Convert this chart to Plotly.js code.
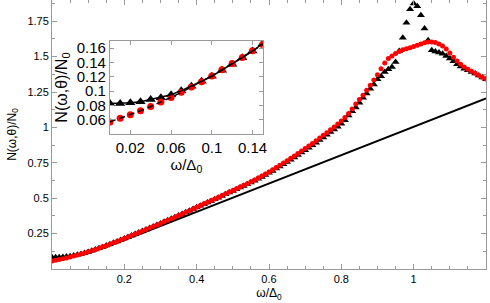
<!DOCTYPE html>
<html>
<head>
<meta charset="utf-8">
<script src="https://cdn.plot.ly/plotly-3.0.1.min.js"></script>
<style>html,body{margin:0;padding:0;background:#fff;}#chart{width:490px;height:303px;}</style>
</head>
<body>
<div id="chart"></div>
<script>
// ---- main panel data (omega/Delta0 from 0 to 1.2 in steps of 0.01) ----
const omegaStep = 0.01;
const nPoints = 121;
const blackTriangles = [
0.0827,0.0827,0.0837,0.0851,0.0883,0.0907,0.0949,0.1006,0.1066,0.1137,
0.1207,0.1292,0.1376,0.1466,0.1559,0.1663,0.175,0.185,0.195,0.2055,
0.216,0.2265,0.237,0.2475,0.258,0.2685,0.279,0.29,0.3005,0.311,
0.322,0.333,0.344,0.355,0.366,0.377,0.389,0.40,0.412,0.424,
0.436,0.447,0.458,0.469,0.481,0.493,0.504,0.516,0.528,0.54,
0.551,0.563,0.575,0.587,0.598,0.611,0.623,0.637,0.65,0.664,
0.679,0.693,0.709,0.724,0.74,0.756,0.772,0.788,0.805,0.822,
0.839,0.857,0.874,0.892,0.911,0.929,0.948,0.967,0.986,1.005,
1.026,1.05,1.085,1.115,1.14,1.175,1.21,1.239,1.274,1.304,
1.34,1.361,1.391,1.41,1.427,1.462,1.54,1.634,1.74,1.835,
1.875,1.855,1.792,1.698,1.615,1.545,1.537,1.53,1.521,1.504,
1.486,1.467,1.446,1.431,1.415,1.403,1.391,1.38,1.366,1.352,
1.34];
const redCircles = [
0.0569,0.0621,0.0668,0.0724,0.0785,0.0846,0.0911,0.0982,0.1058,0.1132,
0.1212,0.1297,0.1386,0.1470,0.1565,0.165,0.175,0.185,0.195,0.2055,
0.216,0.2265,0.237,0.2475,0.258,0.2685,0.279,0.29,0.3005,0.311,
0.322,0.333,0.344,0.355,0.366,0.377,0.389,0.40,0.412,0.424,
0.436,0.448,0.46,0.471,0.483,0.495,0.507,0.519,0.531,0.543,
0.555,0.567,0.579,0.591,0.603,0.616,0.629,0.643,0.657,0.671,
0.686,0.701,0.717,0.733,0.749,0.765,0.782,0.799,0.816,0.833,
0.851,0.869,0.887,0.906,0.925,0.944,0.963,0.983,1.003,1.024,
1.046,1.07,1.098,1.13,1.165,1.197,1.227,1.262,1.298,1.335,
1.372,1.415,1.455,1.486,1.505,1.522,1.537,1.548,1.556,1.563,
1.572,1.58,1.589,1.598,1.603,1.603,1.599,1.589,1.575,1.554,
1.525,1.495,1.469,1.446,1.427,1.41,1.396,1.382,1.368,1.354,
1.342];
const refLineX = [0, 0.05, 0.1, 0.15, 0.2, 0.25, 0.3, 0.4, 0.6, 0.8, 1.0, 1.2];
const refLineY = [0.07, 0.082, 0.112, 0.156, 0.204, 0.253, 0.303, 0.404, 0.605, 0.806, 1.006, 1.205];

// ---- inset data (omega/Delta0 from 0 to 0.15) ----
const insetX = [0,0.01,0.02,0.03,0.04,0.05,0.06,0.07,0.08,0.09,0.10,0.11,0.12,0.13,0.14,0.15];
const insetBlack = [0.0827,0.0827,0.0837,0.0851,0.0883,0.0907,0.0949,0.1006,0.1066,0.1137,0.1207,0.1292,0.1376,0.1466,0.1559,0.1663];
const insetRed = [0.0569,0.0621,0.0668,0.0724,0.0785,0.0846,0.0911,0.0982,0.1058,0.1132,0.1212,0.1297,0.1386,0.1470,0.1565,0.165];

const mainXTicks = [0.2, 0.4, 0.6, 0.8, 1];
const mainYTicks = [0.25, 0.5, 0.75, 1, 1.25, 1.5, 1.75];
const insetXTicks = [0.02, 0.06, 0.1, 0.14];
const insetYTicks = [0.06, 0.08, 0.1, 0.12, 0.14, 0.16];

const omega = [];
for (let i = 0; i < nPoints; i++) omega.push(+(i * omegaStep).toFixed(2));

const FONT = 'Liberation Sans, Arial, sans-serif';
const frame = '#9a9a9a';

const traces = [
  {x: refLineX, y: refLineY, mode: 'lines', line: {color: '#000', width: 2}, xaxis: 'x', yaxis: 'y', hoverinfo: 'skip'},
  {x: omega, y: blackTriangles, mode: 'markers', marker: {symbol: 'triangle-up', size: 7, color: '#000'}, xaxis: 'x', yaxis: 'y'},
  {x: omega, y: redCircles, mode: 'markers', marker: {symbol: 'circle', size: 5, color: '#ff0000'}, xaxis: 'x', yaxis: 'y'},
  {x: insetX, y: insetBlack, mode: 'markers', marker: {symbol: 'triangle-up', size: 9, color: '#000'}, xaxis: 'x2', yaxis: 'y2'},
  {x: insetX, y: insetRed, mode: 'markers', marker: {symbol: 'circle', size: 7, color: '#ff0000'}, xaxis: 'x2', yaxis: 'y2'},
  {x: insetX, y: insetBlack, mode: 'lines', line: {color: '#000', width: 1.5}, xaxis: 'x2', yaxis: 'y2'},
  {x: insetX, y: insetRed, mode: 'lines', line: {color: '#000', width: 1.5, dash: '6px,4px'}, xaxis: 'x2', yaxis: 'y2'}
];

const axisCommon = {
  showgrid: false, zeroline: false, showline: true, linecolor: frame, linewidth: 1,
  mirror: 'allticks', ticks: 'inside', tickcolor: frame, tickwidth: 1,
  fixedrange: true
};

const layout = {
  width: 490, height: 303,
  margin: {l: 52, r: 4, t: 0, b: 34},
  paper_bgcolor: '#fff', plot_bgcolor: '#fff',
  showlegend: false,
  font: {family: FONT, color: '#000', size: 11},
  xaxis: Object.assign({}, axisCommon, {
    domain: [0, 1], range: [0, 1.2], tickmode: 'array', tickvals: mainXTicks,
    ticktext: mainXTicks.map(String), ticklen: 5,
    minor: {tickmode: 'linear', tick0: 0, dtick: 0.05, ticks: 'inside', ticklen: 3, tickcolor: frame},
    tickfont: {size: 11},
    title: {text: 'ω/Δ<sub>0</sub>', font: {size: 12}, standoff: 4}
  }),
  yaxis: Object.assign({}, axisCommon, {
    domain: [0, 1], range: [0, 1.9], tickmode: 'array', tickvals: mainYTicks,
    ticktext: mainYTicks.map(String), ticklen: 5,
    minor: {tickmode: 'linear', tick0: 0, dtick: 0.125, ticks: 'inside', ticklen: 3, tickcolor: frame},
    tickfont: {size: 11},
    title: {text: 'N(ω,θ)/N<sub>0</sub>', font: {size: 12}, standoff: 8}
  }),
  xaxis2: Object.assign({}, axisCommon, {
    domain: [0.1336, 0.4855], range: [0, 0.15], anchor: 'y2',
    tickmode: 'array', tickvals: insetXTicks, ticktext: ['0.02', '0.06', '0.1', '0.14'],
    ticklen: 4, tickfont: {size: 15},
    title: {text: 'ω/Δ<sub>0</sub>', font: {size: 15}, standoff: 2}
  }),
  yaxis2: Object.assign({}, axisCommon, {
    domain: [0.5019, 0.8476], range: [0.04, 0.17], anchor: 'x2',
    tickmode: 'array', tickvals: insetYTicks, ticktext: insetYTicks.map(String),
    ticklen: 4, tickfont: {size: 15},
    title: {text: 'N(ω,θ)/N<sub>0</sub>', font: {size: 16}, standoff: 5}
  })
};

Plotly.newPlot('chart', traces, layout, {staticPlot: true, displayModeBar: false});
</script>
</body>
</html>
